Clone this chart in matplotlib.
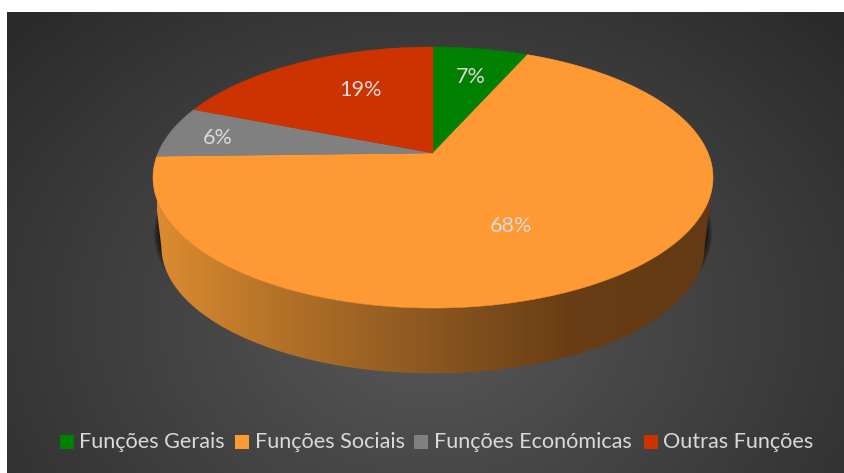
import numpy as np
import matplotlib.pyplot as plt
from matplotlib.colors import LinearSegmentedColormap
from matplotlib.patches import Polygon, Rectangle

categories = ["Funções Gerais", "Funções Sociais", "Funções Económicas", "Outras Funções"]
values = [6.6, 68.0, 6.4, 19]
labels = ["7%", "68%", "6%", "19%"]
colors = ["#008000", "#FF9933", "#808080", "#CC3300"]

plt.rcParams["font.family"] = ["Lato", "DejaVu Sans"]

fig = plt.figure(figsize=(8.44, 4.73), dpi=100, facecolor="white")
ax = fig.add_axes([0, 0, 1, 1])
ax.set_xlim(0, 844)
ax.set_ylim(473, 0)
ax.axis("off")

# fondo con degradado radial
xx, yy = np.meshgrid(np.linspace(7, 844, 420), np.linspace(13, 473, 230))
r = np.sqrt(((xx - 428) / 570) ** 2 + ((yy - 320) / 440) ** 2)
bg = LinearSegmentedColormap.from_list("bg", ["#585858", "#2a2a2a"])
ax.imshow(np.clip(r, 0, 1), cmap=bg, vmin=0, vmax=1, extent=(7, 844, 473, 13),
          aspect="auto", zorder=0)


# pastel en perspectiva: circulo unidad -> pantalla
def project(theta, scale=1.0, dy=0.0):
    x = np.sin(theta)
    y = np.cos(theta)
    d = 1 + 0.188 * y
    return 433 + scale * 275 * x / d, 153 + dy - scale * 125.9 * y / d


t = np.linspace(0, 2 * np.pi, 721)
tx, ty = project(t)
bx, by = project(t, scale=0.97, dy=70)

# sombra difusa debajo del lateral
for i in range(10):
    sx, sy = project(t, scale=0.972 + 0.0028 * i, dy=56)
    ax.add_patch(Polygon(np.c_[sx, sy], fc="black", ec="none", alpha=0.10, zorder=1))

# lateral
right = np.argmax(tx)
left = np.argmin(tx)
wall = np.r_[np.c_[tx[right:left + 1], ty[right:left + 1]],
             np.c_[bx[right:left + 1], by[right:left + 1]][::-1]]
wall_cmap = LinearSegmentedColormap.from_list(
    "wall", [(0, "#dc8c30"), (0.17, "#bc7729"), (0.5, "#8a5620"),
             (0.75, "#693d14"), (1, "#633a14")])
grad = np.linspace(0, 1, 400).reshape(1, -1)
im = ax.imshow(grad, cmap=wall_cmap, extent=(157, 710, 380, 170), aspect="auto", zorder=2)
clip = Polygon(wall, transform=ax.transData, fc="none", ec="none")
ax.add_patch(clip)
im.set_clip_path(clip)
ax.set_xlim(0, 844)
ax.set_ylim(473, 0)

# caras superiores
start = 0.0
fracs = np.array(values) / sum(values) * 2 * np.pi
for val, col in zip(fracs, colors):
    a = np.linspace(start, start + val, 200)
    px, py = project(a)
    ax.add_patch(Polygon(np.r_[[[433, 153]], np.c_[px, py]], fc=col, ec=col, lw=0.4, zorder=3))
    start += val

# etiquetas
label_pos = [(471, 77), (511, 226), (218, 138), (360, 90)]
for txt, (lx, ly) in zip(labels, label_pos):
    ax.text(lx, ly, txt, color="#d9d9d9", fontsize=15.6, ha="center", va="center", zorder=4)

# leyenda
legend_sq = [60, 235, 414, 643.5]
legend_tx = [79, 255, 434, 663]
for name, col, sq, tx0 in zip(categories, colors, legend_sq, legend_tx):
    ax.add_patch(Rectangle((sq, 435), 14, 14, fc=col, ec="none", zorder=4))
    ax.text(tx0, 442, name, color="#d9d9d9", fontsize=15.6, ha="left", va="center", zorder=4)

fig.savefig("out.png", dpi=100)
